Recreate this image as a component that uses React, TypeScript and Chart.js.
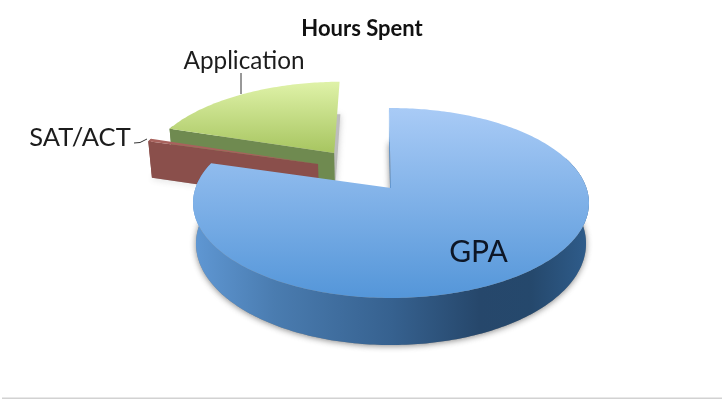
import React, { useEffect, useRef } from "react";
import { Chart, registerables } from "chart.js";

Chart.register(...registerables);

const chartTitle = "Hours Spent";
const categories = ["GPA", "SAT/ACT", "Application"];
const hours = [79.7, 0.5, 19.8];

// Exploded offsets of each slice on the ground plane (pie radius = 1)
const EXPLODE: [number, number][] = [[0, 0], [-0.389, 0.27], [-0.309, 0.402]];
const ROTATION = -0.7;

// Camera used to turn the flat arcs into a tilted 3D pie
const CX = 391, CY = 188, A = 195.5, TILT = 92.6, D = 6.33, HEIGHT = 39.6, CONVERGE = 0.015;

function project(X: number, Z: number, h: number): [number, number] {
  const f = D / (D + Z);
  return [CX + X * A * f * (1 - CONVERGE * h), CY - Z * TILT * f + h * HEIGHT * f];
}

type Pt = [number, number];
function tracePoly(ctx: CanvasRenderingContext2D, pts: Pt[]) {
  ctx.beginPath();
  pts.forEach((p, i) => (i ? ctx.lineTo(p[0], p[1]) : ctx.moveTo(p[0], p[1])));
  ctx.closePath();
}

function sliceGeometry(arc: any, i: number) {
  const a0 = arc.startAngle + Math.PI / 2;
  const a1 = arc.endAngle + Math.PI / 2;
  const [ox, oz] = EXPLODE[i];
  const n = Math.max(2, Math.ceil(((a1 - a0) * 180) / Math.PI));
  const angles: number[] = [];
  for (let k = 0; k <= n; k++) angles.push(a0 + ((a1 - a0) * k) / n);
  const rim = (h: number, list = angles): Pt[] =>
    list.map((t) => project(ox + Math.sin(t), oz + Math.cos(t), h));
  const apex = (h: number): Pt => project(ox, oz, h);
  return { rim, apex, angles };
}

const pie3d = {
  id: "pie3d",
  beforeDatasetDraw(chart: any) {
    const ctx: CanvasRenderingContext2D = chart.ctx;
    const arcs = chart.getDatasetMeta(0).data;

    const vgrad = (y0: number, y1: number, c0: string, c1: string) => {
      const g = ctx.createLinearGradient(0, y0, 0, y1);
      g.addColorStop(0, c0);
      g.addColorStop(1, c1);
      return g;
    };

    const wallBlue = ctx.createLinearGradient(195, 0, 590, 0);
    [[0, "#5f97d3"], [0.2, "#4a7cb0"], [0.5, "#36618f"], [0.72, "#26476b"], [0.85, "#25486c"], [1, "#2f5d8c"]].forEach(
      ([p, c]) => wallBlue.addColorStop(p as number, c as string)
    );

    const styles = [
      { top: vgrad(108, 298, "#a9cbf6", "#5496d9"), wall: wallBlue as any, face: "#5f97d3", base: "#8a8a8a", shadow: "rgba(70,70,70,0.65)" },
      { top: "#a8625d", wall: "#8a4f4b", face: "#8a4f4b", base: "#b5b5b5", shadow: "rgba(90,90,90,0.3)" },
      { top: vgrad(82, 153, "#dff2a8", "#a7c560"), wall: "#6f8a50", face: "#6f8a50", base: "#bdbdbd", shadow: "rgba(110,110,110,0.4)" },
    ];

    // back-to-front: Application, SAT/ACT, GPA
    [2, 1, 0].forEach((i) => {
      const g = sliceGeometry(arcs[i], i);
      const s = styles[i];
      const bottom: Pt[] = [g.apex(1), ...g.rim(1)];
      // soft shadow of the slice base
      ctx.save();
      ctx.shadowColor = s.shadow;
      ctx.shadowBlur = 6;
      ctx.shadowOffsetX = 0;
      ctx.shadowOffsetY = 1;
      ctx.fillStyle = s.base;
      tracePoly(ctx, bottom);
      ctx.fill();
      ctx.restore();
      // outer wall: only the part that faces the viewer
      const front = g.angles.filter((t) => Math.cos(t) < 0.35);
      if (front.length > 1) {
        ctx.fillStyle = s.wall;
        tracePoly(ctx, [...g.rim(0, front), ...g.rim(1, front).reverse()]);
        ctx.fill();
      }
      // radial cut face on the slice's leading edge
      const rt = g.rim(0);
      const rb = g.rim(1);
      ctx.fillStyle = s.face;
      tracePoly(ctx, [g.apex(0), rt[0], rb[0], g.apex(1)]);
      ctx.fill();
      // top surface
      ctx.fillStyle = s.top;
      tracePoly(ctx, [g.apex(0), ...rt]);
      ctx.fill();
    });

    // leader lines
    ctx.strokeStyle = "#333";
    ctx.lineWidth = 1;
    ctx.beginPath();
    ctx.moveTo(241, 73);
    ctx.lineTo(241, 94);
    ctx.moveTo(134, 143);
    ctx.lineTo(140, 142.5);
    ctx.lineTo(147, 139);
    ctx.stroke();

    // category labels
    ctx.textAlign = "center";
    ctx.textBaseline = "middle";
    ctx.font = "30px Lato";
    ctx.fillStyle = "#0d1626";
    ctx.fillText(categories[0], 478.5, 252);
    ctx.fillStyle = "#1c1c1c";
    ctx.font = "25.5px Lato";
    ctx.fillText(categories[1], 80, 138);
    ctx.font = "24.3px Lato";
    ctx.fillText(categories[2], 244, 61);

    // bottom rule
    ctx.fillStyle = "#d2d2d2";
    ctx.fillRect(2, 397.5, 720, 1.5);
    return false;
  },
};

export default function App() {
  const ref = useRef<HTMLCanvasElement>(null);
  useEffect(() => {
    const chart = new Chart(ref.current!, {
      type: "pie",
      data: {
        labels: categories,
        datasets: [{ data: hours, borderWidth: 0 }],
      },
      options: {
        responsive: false,
        animation: false,
        rotation: ROTATION,
        plugins: {
          legend: { display: false },
          tooltip: { enabled: false },
          title: {
            display: true,
            text: chartTitle,
            color: "#111",
            font: { family: "Lato", weight: "bold", size: 22 },
            padding: { top: 16, bottom: 10 },
          },
        },
      },
      plugins: [pie3d],
    } as any);
    return () => chart.destroy();
  }, []);
  return (
    <div style={{ position: "absolute", left: 0, top: 0, width: 724, height: 401, background: "#fff" }}>
      <canvas ref={ref} width={724} height={401} style={{ display: "block", filter: "blur(0.5px)" }} />
    </div>
  );
}
